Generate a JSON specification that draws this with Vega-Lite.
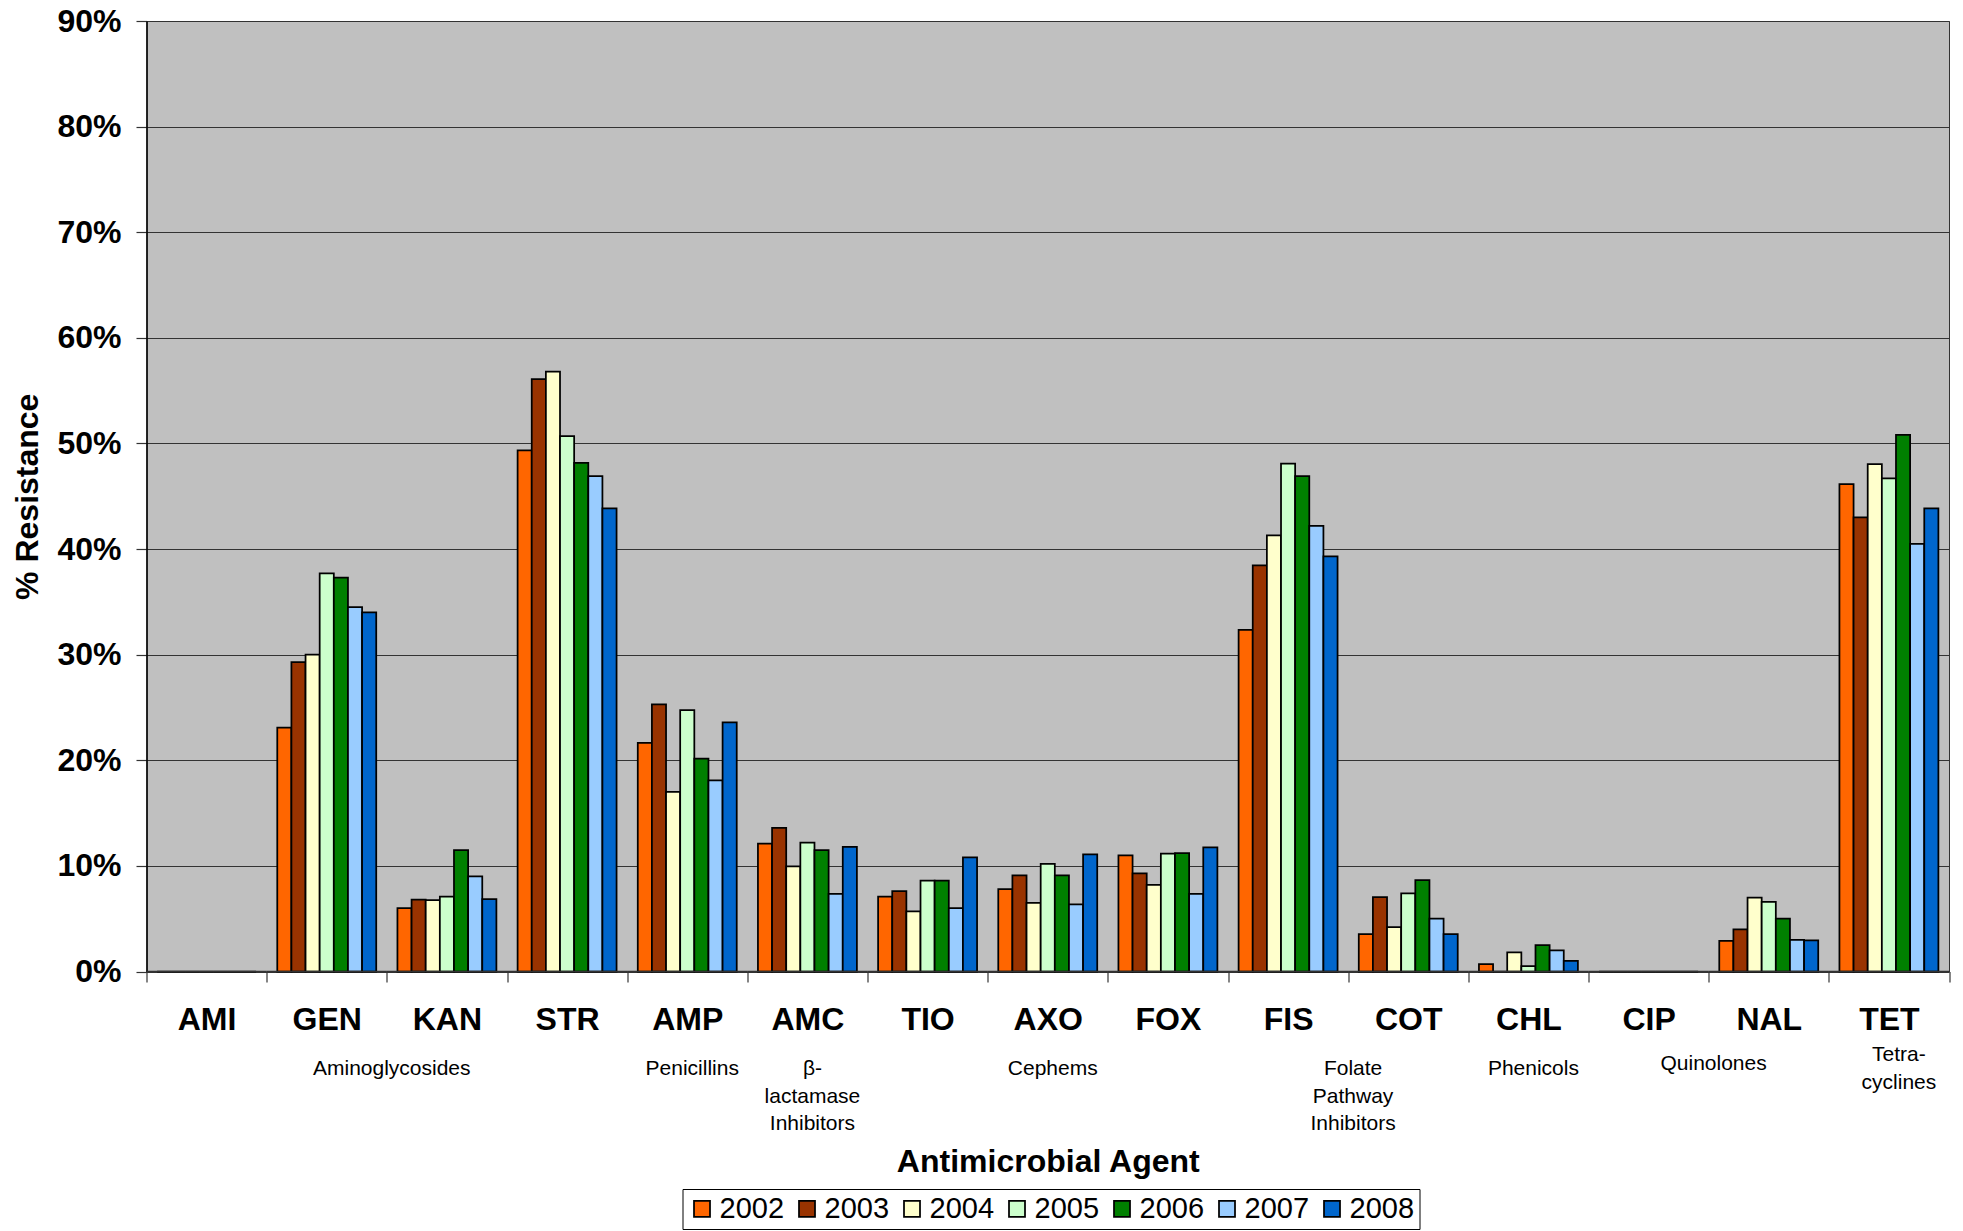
{
  "$schema": "https://vega.github.io/schema/vega-lite/v6.json",
  "width": 1802.5,
  "height": 950.5,
  "autosize": {"type": "none"},
  "padding": {"left": 146.5, "top": 21, "right": 14, "bottom": 259.5},
  "background": "white",
  "config": {
    "font": "Liberation Sans",
    "view": {"fill": "#C0C0C0", "stroke": "#333333", "strokeWidth": 1},
    "axis": {"labelFont": "Liberation Sans", "titleFont": "Liberation Sans", "labelColor": "black", "titleColor": "black"},
    "legend": {"labelFont": "Liberation Sans"}
  },
  "datasets": {
    "resistance": [
      {"agent": "AMI", "year": "2002", "pct": 0}, {"agent": "AMI", "year": "2003", "pct": 0}, {"agent": "AMI", "year": "2004", "pct": 0}, {"agent": "AMI", "year": "2005", "pct": 0}, {"agent": "AMI", "year": "2006", "pct": 0}, {"agent": "AMI", "year": "2007", "pct": 0}, {"agent": "AMI", "year": "2008", "pct": 0},
      {"agent": "GEN", "year": "2002", "pct": 23.1}, {"agent": "GEN", "year": "2003", "pct": 29.3}, {"agent": "GEN", "year": "2004", "pct": 30.0}, {"agent": "GEN", "year": "2005", "pct": 37.7}, {"agent": "GEN", "year": "2006", "pct": 37.3}, {"agent": "GEN", "year": "2007", "pct": 34.5}, {"agent": "GEN", "year": "2008", "pct": 34.0},
      {"agent": "KAN", "year": "2002", "pct": 6.0}, {"agent": "KAN", "year": "2003", "pct": 6.8}, {"agent": "KAN", "year": "2004", "pct": 6.75}, {"agent": "KAN", "year": "2005", "pct": 7.1}, {"agent": "KAN", "year": "2006", "pct": 11.5}, {"agent": "KAN", "year": "2007", "pct": 9.0}, {"agent": "KAN", "year": "2008", "pct": 6.85},
      {"agent": "STR", "year": "2002", "pct": 49.35}, {"agent": "STR", "year": "2003", "pct": 56.1}, {"agent": "STR", "year": "2004", "pct": 56.8}, {"agent": "STR", "year": "2005", "pct": 50.7}, {"agent": "STR", "year": "2006", "pct": 48.15}, {"agent": "STR", "year": "2007", "pct": 46.9}, {"agent": "STR", "year": "2008", "pct": 43.85},
      {"agent": "AMP", "year": "2002", "pct": 21.65}, {"agent": "AMP", "year": "2003", "pct": 25.3}, {"agent": "AMP", "year": "2004", "pct": 17.0}, {"agent": "AMP", "year": "2005", "pct": 24.75}, {"agent": "AMP", "year": "2006", "pct": 20.15}, {"agent": "AMP", "year": "2007", "pct": 18.1}, {"agent": "AMP", "year": "2008", "pct": 23.6},
      {"agent": "AMC", "year": "2002", "pct": 12.1}, {"agent": "AMC", "year": "2003", "pct": 13.6}, {"agent": "AMC", "year": "2004", "pct": 9.95}, {"agent": "AMC", "year": "2005", "pct": 12.2}, {"agent": "AMC", "year": "2006", "pct": 11.5}, {"agent": "AMC", "year": "2007", "pct": 7.35}, {"agent": "AMC", "year": "2008", "pct": 11.8},
      {"agent": "TIO", "year": "2002", "pct": 7.1}, {"agent": "TIO", "year": "2003", "pct": 7.6}, {"agent": "TIO", "year": "2004", "pct": 5.7}, {"agent": "TIO", "year": "2005", "pct": 8.6}, {"agent": "TIO", "year": "2006", "pct": 8.6}, {"agent": "TIO", "year": "2007", "pct": 6.0}, {"agent": "TIO", "year": "2008", "pct": 10.8},
      {"agent": "AXO", "year": "2002", "pct": 7.8}, {"agent": "AXO", "year": "2003", "pct": 9.1}, {"agent": "AXO", "year": "2004", "pct": 6.5}, {"agent": "AXO", "year": "2005", "pct": 10.2}, {"agent": "AXO", "year": "2006", "pct": 9.1}, {"agent": "AXO", "year": "2007", "pct": 6.35}, {"agent": "AXO", "year": "2008", "pct": 11.1},
      {"agent": "FOX", "year": "2002", "pct": 11.0}, {"agent": "FOX", "year": "2003", "pct": 9.3}, {"agent": "FOX", "year": "2004", "pct": 8.2}, {"agent": "FOX", "year": "2005", "pct": 11.15}, {"agent": "FOX", "year": "2006", "pct": 11.2}, {"agent": "FOX", "year": "2007", "pct": 7.35}, {"agent": "FOX", "year": "2008", "pct": 11.75},
      {"agent": "FIS", "year": "2002", "pct": 32.35}, {"agent": "FIS", "year": "2003", "pct": 38.45}, {"agent": "FIS", "year": "2004", "pct": 41.3}, {"agent": "FIS", "year": "2005", "pct": 48.1}, {"agent": "FIS", "year": "2006", "pct": 46.9}, {"agent": "FIS", "year": "2007", "pct": 42.2}, {"agent": "FIS", "year": "2008", "pct": 39.3},
      {"agent": "COT", "year": "2002", "pct": 3.55}, {"agent": "COT", "year": "2003", "pct": 7.05}, {"agent": "COT", "year": "2004", "pct": 4.2}, {"agent": "COT", "year": "2005", "pct": 7.4}, {"agent": "COT", "year": "2006", "pct": 8.65}, {"agent": "COT", "year": "2007", "pct": 5.0}, {"agent": "COT", "year": "2008", "pct": 3.55},
      {"agent": "CHL", "year": "2002", "pct": 0.7}, {"agent": "CHL", "year": "2003", "pct": 0}, {"agent": "CHL", "year": "2004", "pct": 1.8}, {"agent": "CHL", "year": "2005", "pct": 0.5}, {"agent": "CHL", "year": "2006", "pct": 2.5}, {"agent": "CHL", "year": "2007", "pct": 2.0}, {"agent": "CHL", "year": "2008", "pct": 1.0},
      {"agent": "CIP", "year": "2002", "pct": 0}, {"agent": "CIP", "year": "2003", "pct": 0}, {"agent": "CIP", "year": "2004", "pct": 0}, {"agent": "CIP", "year": "2005", "pct": 0}, {"agent": "CIP", "year": "2006", "pct": 0}, {"agent": "CIP", "year": "2007", "pct": 0}, {"agent": "CIP", "year": "2008", "pct": 0},
      {"agent": "NAL", "year": "2002", "pct": 2.9}, {"agent": "NAL", "year": "2003", "pct": 4.0}, {"agent": "NAL", "year": "2004", "pct": 7.0}, {"agent": "NAL", "year": "2005", "pct": 6.6}, {"agent": "NAL", "year": "2006", "pct": 5.0}, {"agent": "NAL", "year": "2007", "pct": 3.0}, {"agent": "NAL", "year": "2008", "pct": 2.95},
      {"agent": "TET", "year": "2002", "pct": 46.15}, {"agent": "TET", "year": "2003", "pct": 43.0}, {"agent": "TET", "year": "2004", "pct": 48.05}, {"agent": "TET", "year": "2005", "pct": 46.7}, {"agent": "TET", "year": "2006", "pct": 50.8}, {"agent": "TET", "year": "2007", "pct": 40.5}, {"agent": "TET", "year": "2008", "pct": 43.85}
    ],
    "agents": [
      {"agent": "AMI", "family": "Aminoglycosides"},
      {"agent": "GEN", "family": "Aminoglycosides"},
      {"agent": "KAN", "family": "Aminoglycosides"},
      {"agent": "STR", "family": "Aminoglycosides"},
      {"agent": "AMP", "family": "Penicillins"},
      {"agent": "AMC", "family": "β-lactamase Inhibitors"},
      {"agent": "TIO", "family": "Cephems"},
      {"agent": "AXO", "family": "Cephems"},
      {"agent": "FOX", "family": "Cephems"},
      {"agent": "FIS", "family": "Folate Pathway Inhibitors"},
      {"agent": "COT", "family": "Folate Pathway Inhibitors"},
      {"agent": "CHL", "family": "Phenicols"},
      {"agent": "CIP", "family": "Quinolones"},
      {"agent": "NAL", "family": "Quinolones"},
      {"agent": "TET", "family": "Tetracyclines"}
    ]
  },
  "layer": [
    {
      "data": {"name": "resistance"},
      "mark": {"type": "bar", "stroke": "black", "strokeWidth": 1.75},
      "encoding": {
        "x": {
          "field": "agent", "type": "nominal", "sort": null,
          "scale": {"domain": ["AMI", "GEN", "KAN", "STR", "AMP", "AMC", "TIO", "AXO", "FOX", "FIS", "COT", "CHL", "CIP", "NAL", "TET"], "paddingInner": 0, "paddingOuter": 0},
          "axis": {
            "orient": "bottom", "title": null, "tickBand": "extent", "domain": false, "grid": false,
            "ticks": true, "tickSize": 10.5, "tickColor": "#333333", "tickWidth": 1.2,
            "labelAngle": 0, "labelFontSize": 32, "labelFontWeight": "bold", "labelPadding": 22, "labelBaseline": "top"
          }
        },
        "xOffset": {"field": "year", "type": "nominal", "scale": {"paddingInner": 0, "paddingOuter": 0.75}},
        "y": {
          "field": "pct", "type": "quantitative",
          "scale": {"domain": [0, 90], "nice": false},
          "axis": {
            "title": "% Resistance", "values": [0, 10, 20, 30, 40, 50, 60, 70, 80, 90],
            "labelExpr": "datum.value + '%'",
            "grid": true, "gridColor": "#333333", "gridWidth": 1,
            "domain": true, "domainColor": "black", "domainWidth": 1.5,
            "tickSize": 10.5, "tickColor": "#333333", "tickWidth": 1.2,
            "labelFontSize": 32, "labelFontWeight": "bold", "labelPadding": 15,
            "titleFontSize": 32, "titleFontWeight": "bold", "titlePadding": 12
          }
        },
        "color": {
          "field": "year", "type": "nominal",
          "scale": {
            "domain": ["2002", "2003", "2004", "2005", "2006", "2007", "2008"],
            "range": ["#FF6600", "#993300", "#FFFFCC", "#CCFFCC", "#008000", "#99CCFF", "#0066CC"]
          },
          "legend": {
            "orient": "none", "legendX": 536, "legendY": 1168, "direction": "horizontal", "columns": 7,
            "title": null, "symbolType": "square", "symbolSize": 256,
            "symbolStrokeColor": "black", "symbolStrokeWidth": 1.75, "symbolOpacity": 1,
            "labelFontSize": 29, "labelColor": "black", "labelOffset": 3, "columnPadding": 8,
            "padding": 5, "strokeColor": "black", "fillColor": "white"
          }
        }
      }
    },
    {
      "data": {"name": "agents"},
      "mark": {"type": "rect", "stroke": "#333333", "strokeWidth": 1.5, "fill": "#333333"},
      "encoding": {
        "x": {
          "field": "agent", "type": "nominal", "sort": null,
          "scale": {"domain": ["AMI", "GEN", "KAN", "STR", "AMP", "AMC", "TIO", "AXO", "FOX", "FIS", "COT", "CHL", "CIP", "NAL", "TET"], "paddingInner": 0, "paddingOuter": 0},
          "axis": {
            "orient": "bottom", "title": "Antimicrobial Agent", "titleFontSize": 32, "titleFontWeight": "bold", "titlePadding": 13,
            "domain": false, "ticks": false, "tickSize": 0, "grid": false,
            "labelAngle": 0, "labelFontSize": 21, "labelFontWeight": "normal", "labelLineHeight": 27.5,
            "labelBaseline": "top", "labelOverlap": false, "labelBound": false,
            "labelExpr": "datum.value == 'GEN' ? 'Aminoglycosides' : datum.value == 'AMP' ? 'Penicillins' : datum.value == 'AMC' ? ['β-', 'lactamase', 'Inhibitors'] : datum.value == 'AXO' ? 'Cephems' : datum.value == 'FIS' ? ['Folate', 'Pathway', 'Inhibitors'] : datum.value == 'CHL' ? 'Phenicols' : datum.value == 'CIP' ? 'Quinolones' : datum.value == 'TET' ? ['Tetra-', 'cyclines'] : ''",
            "labelPadding": {"condition": [{"test": "datum.value == 'TET'", "value": 72}, {"test": "datum.value == 'CIP'", "value": 81}], "value": 86},
            "labelOffset": {"condition": [{"test": "indexof(['GEN', 'FIS', 'CIP'], datum.value) >= 0", "value": 65}, {"test": "datum.value == 'TET'", "value": 10}], "value": 5}
          }
        },
        "y": {"datum": 0, "type": "quantitative"},
        "y2": {"datum": 0}
      }
    }
  ],
  "resolve": {"scale": {"x": "independent"}, "axis": {"x": "independent"}}
}
